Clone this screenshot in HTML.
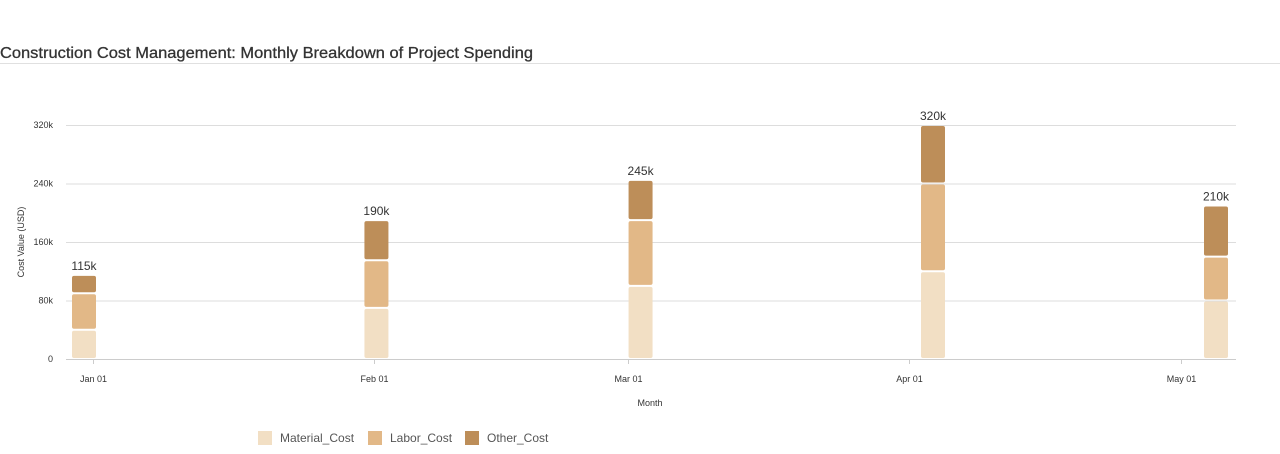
<!DOCTYPE html>
<html><head><meta charset="utf-8"><style>
html,body{margin:0;padding:0;background:#fff;width:1280px;height:454px;overflow:hidden;font-family:"Liberation Sans",sans-serif}
</style></head><body>
<svg id="chart" width="1280" height="454" xmlns="http://www.w3.org/2000/svg">
<text x="0" y="58" font-size="16" fill="#333" stroke="#333" stroke-width="0.3" textLength="533" lengthAdjust="spacingAndGlyphs">Construction Cost Management: Monthly Breakdown of Project Spending</text>
<line x1="0" y1="63.5" x2="1280" y2="63.5" stroke="#e0e0e0"/>
<g id="grid"></g><g id="bars"></g><g id="xaxis"></g>
<text transform="translate(24,242) rotate(-90)" text-anchor="middle" font-size="9" fill="#333">Cost Value (USD)</text>
<text x="650" y="406" text-anchor="middle" font-size="9" fill="#333">Month</text>
<g id="legend"></g>
</svg>
<script>
const months = ["Jan 01","Feb 01","Mar 01","Apr 01","May 01"];
const dayOffsets = [0,31,59,90,120];
const material = [40,70,100,120,80];
const labor = [50,65,90,120,60];
const other = [25,55,55,80,70];
const totalLabels = ["115k","190k","245k","320k","210k"];
const yTicks = [0,80,160,240,320];
const seriesNames = ["Material_Cost","Labor_Cost","Other_Cost"];
const colors = ["#f2dfc4","#e2b887","#bd8e59"];
const NS="http://www.w3.org/2000/svg";
const y = v => 359 - v*234/320;
const xBar = d => 84 + d*(1216-84)/120;
const xTick = d => 93 + d*(1181-93)/120;
function mk(tag,attrs,parent,txt){const e=document.createElementNS(NS,tag);for(const k in attrs)e.setAttribute(k,attrs[k]);if(txt!==undefined)e.textContent=txt;parent.appendChild(e);return e;}
const grid=document.getElementById('grid');
yTicks.forEach(t=>{
  const l=mk('line',{x1:66,x2:1236,y1:y(t)+0.5,y2:y(t)+0.5,stroke:t===0?'#ccc':'#ddd'},grid);
  
  
  const tx=mk('text',{x:53,y:y(t)+3,'text-anchor':'end','font-size':9,fill:'#333'},grid,t===0?'0':t+'k');
  
  
});
const bars=document.getElementById('bars');
const series=[material,labor,other];
months.forEach((m,i)=>{
  let base=0;const cx=xBar(dayOffsets[i]);
  series.forEach((s,k)=>{
    const top=y(base+s[i]), bot=y(base);
    const r=mk('rect',{x:cx-12,y:top+1,width:24,height:Math.max(0,bot-top-2),rx:2,fill:colors[k]},bars);
    
    
    base+=s[i];
  });
  const lb=mk('text',{x:cx,y:y(base)-5,'text-anchor':'middle','font-size':12,fill:'#333'},bars,totalLabels[i]);
  
  
});
const xa=document.getElementById('xaxis');
months.forEach((m,i)=>{
  const x=Math.round(xTick(dayOffsets[i]))+0.5;
  const tk=mk('line',{x1:x,x2:x,y1:359,y2:364,stroke:'#ccc'},xa);
  
  
  const t=mk('text',{x:x,y:382,'text-anchor':'middle','font-size':9,fill:'#333'},xa,m);
  
  
});
const lg=document.getElementById('legend');
const lx=[258,368,465];
seriesNames.forEach((n,k)=>{
  const g=mk('g',{},lg);
  
  
  mk('rect',{x:lx[k],y:431,width:14,height:14,fill:colors[k]},g);
  mk('text',{x:lx[k]+22,y:442,'font-size':12,fill:'#555'},g,n);
});
</script>
</body></html>
